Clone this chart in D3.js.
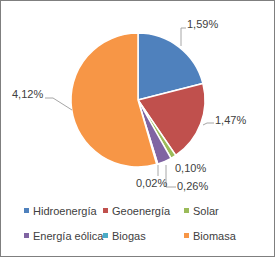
<!DOCTYPE html>
<html>
<head>
<meta charset="utf-8">
<script src="https://cdn.jsdelivr.net/npm/d3@7"></script>
<style>
body { margin: 0; background: #fff; }
text { font-family: "Liberation Sans", Arial, sans-serif; }
</style>
</head>
<body>
<div id="chart"></div>
<script>
var sources = ["Hidroenergía", "Geoenergía", "Solar", "Energía eólica", "Biogas", "Biomasa"];
var shares = [1.59, 1.47, 0.10, 0.26, 0.02, 4.12];
var labels = ["1,59%", "1,47%", "0,10%", "0,26%", "0,02%", "4,12%"];
var colors = ["#4f81bd", "#c0504d", "#9bbb59", "#8064a2", "#4bacc6", "#f79646"];

var W = 276, H = 258;
var svg = d3.select("#chart").append("svg").attr("width", W).attr("height", H);

svg.append("rect")
  .attr("x", 0.5).attr("y", 0.5).attr("width", W - 2).attr("height", H - 2)
  .style("fill", "#fff").style("stroke", "#7f7f7f");

var cx = 138, cy = 100, r = 67;
var pie = d3.pie().sort(null).value(function(d) { return d; });
var arc = d3.arc().innerRadius(0).outerRadius(r);
var arcs = pie(shares);

var g = svg.append("g").attr("transform", "translate(" + cx + "," + cy + ")");
g.selectAll("path")
  .data(arcs)
  .enter().append("path")
  .attr("d", arc)
  .style("fill", function(d, i) { return colors[i]; })
  .style("stroke", "#fff")
  .style("stroke-width", 1.5);

// label placement (Excel puts them by hand, roughly)
var labelPos = [
  {x: 187, y: 28, anchor: "start", line: [[181, 46], [181, 28], [186, 28]]},
  {x: 215, y: 124, anchor: "start", line: [[203, 125], [207, 123], [214, 123]]},
  {x: 175, y: 172, anchor: "start", line: null},
  {x: 177, y: 190, anchor: "start", line: [[166, 165], [166, 187], [176, 187]]},
  {x: 136, y: 187, anchor: "start", line: [[158, 165], [158, 176]]},
  {x: 12, y: 98, anchor: "start", line: [[72, 110], [53, 98], [45, 98]]}
];

var lineGen = d3.line();
labelPos.forEach(function(p, i) {
  if (p.line) {
    svg.append("path")
      .attr("d", lineGen(p.line))
      .style("fill", "none")
      .style("stroke", "#a6a6a6")
      .style("stroke-width", 1);
  }
  svg.append("text")
    .attr("x", p.x).attr("y", p.y)
    .attr("text-anchor", p.anchor)
    .style("font-size", "11px")
    .style("fill", "#404040")
    .text(labels[i]);
});

// legend, two rows of three
var legX = [24, 103, 184];
var legY = [211, 236];
var leg = svg.selectAll("g.leg")
  .data(sources)
  .enter().append("g")
  .attr("class", "leg")
  .attr("transform", function(d, i) {
    return "translate(" + legX[i % 3] + "," + legY[Math.floor(i / 3)] + ")";
  });
leg.append("rect")
  .attr("x", 0).attr("y", -3).attr("width", 5).attr("height", 5)
  .style("fill", function(d, i) { return colors[i]; });
leg.append("text")
  .attr("x", 9).attr("y", 4)
  .style("font-size", "11px")
  .style("fill", "#404040")
  .text(function(d) { return d; });
</script>
</body>
</html>
